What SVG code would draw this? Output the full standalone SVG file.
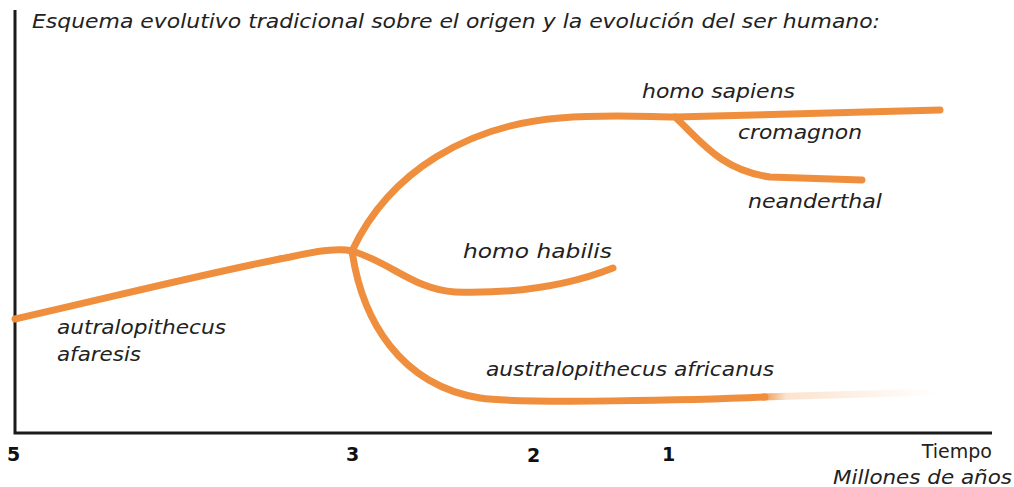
<svg xmlns="http://www.w3.org/2000/svg" width="1014" height="487" viewBox="0 0 1014 487">
<defs>
<linearGradient id="fade" gradientUnits="userSpaceOnUse" x1="760" y1="0" x2="935" y2="0">
<stop offset="0" stop-color="#EF8F3E" stop-opacity="1"/>
<stop offset="0.15" stop-color="#EF8F3E" stop-opacity="0.25"/>
<stop offset="1" stop-color="#EF8F3E" stop-opacity="0"/>
</linearGradient>
</defs>
<style>
.br{fill:none;stroke:#EF8F3E;stroke-width:7;stroke-linecap:round}
.ax{fill:none;stroke:#1a1a1a;stroke-width:3}
.lb{font-family:"DejaVu Sans",Verdana,sans-serif;font-style:italic;font-size:20px;fill:#222}
.num{font-family:"DejaVu Sans",Verdana,sans-serif;font-weight:bold;font-size:19px;fill:#111}
</style>
<rect width="1014" height="487" fill="#fff"/>
<g id="axes">
<path class="ax" d="M15,10 V433 H992"/>
</g>
<g id="connectors">
<path class="br" d="M15,319 C120,295 220,270 290,257 C320,250 340,248 352,251"/>
<path class="br" d="M352,251 C390,170 470,125 560,118 C610,114 650,117 675,117 L940,110"/>
<path class="br" d="M675,117 C700,140 720,170 770,177 L862,180"/>
<path class="br" d="M352,251 C390,262 415,290 455,292 C520,294 570,285 613,268"/>
<path class="br" d="M352,251 C362,320 400,385 480,398 C520,404 700,400 765,397"/>
<path d="M762,397 L935,392" fill="none" stroke="url(#fade)" stroke-width="7"/>
</g>
<g id="title"><text class="lb" x="32" y="28" font-size="18" textLength="848" lengthAdjust="spacingAndGlyphs">Esquema evolutivo tradicional sobre el origen y la evolución del ser humano:</text></g>
<g id="n-sapiens"><text class="lb" x="642" y="98" textLength="153" lengthAdjust="spacingAndGlyphs">homo sapiens</text></g>
<g id="n-cromagnon"><text class="lb" x="738" y="139" textLength="124" lengthAdjust="spacingAndGlyphs">cromagnon</text></g>
<g id="n-neanderthal"><text class="lb" x="748" y="208" textLength="134" lengthAdjust="spacingAndGlyphs">neanderthal</text></g>
<g id="n-habilis"><text class="lb" x="463" y="258" textLength="149" lengthAdjust="spacingAndGlyphs">homo habilis</text></g>
<g id="n-afaresis"><text class="lb" x="57" y="334" textLength="169" lengthAdjust="spacingAndGlyphs">autralopithecus</text><text class="lb" x="57" y="361" textLength="84" lengthAdjust="spacingAndGlyphs">afaresis</text></g>
<g id="n-africanus"><text class="lb" x="486" y="376" textLength="288" lengthAdjust="spacingAndGlyphs">australopithecus africanus</text></g>
<g id="ticks">
<text class="num" x="7" y="461">5</text>
<text class="num" x="346" y="461">3</text>
<text class="num" x="527" y="462">2</text>
<text class="num" x="662" y="461">1</text>
<text x="992" y="458" text-anchor="end" font-family="DejaVu Sans,Verdana,sans-serif" font-size="19" fill="#222">Tiempo</text>
<text class="lb" x="1012" y="484" text-anchor="end" textLength="179" lengthAdjust="spacingAndGlyphs">Millones de años</text>
</g>
</svg>
